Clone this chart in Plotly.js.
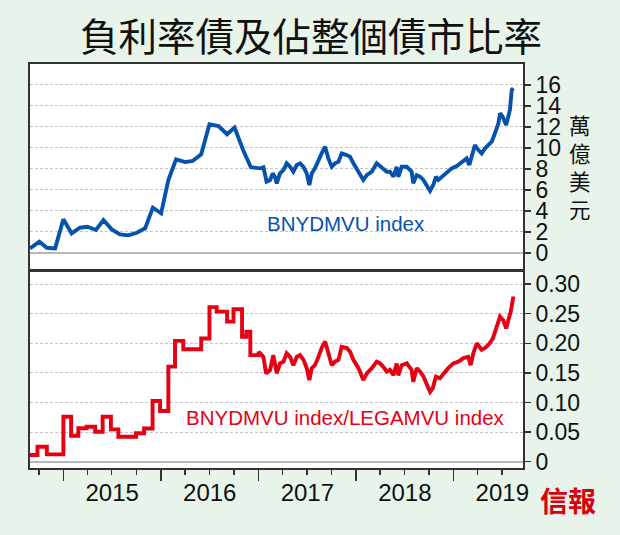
<!DOCTYPE html>
<html>
<head>
<meta charset="utf-8">
<script src="https://cdn.plot.ly/plotly-3.0.1.min.js"></script>
<style>html,body{margin:0;padding:0;background:#e8f4e9;}#chart{width:620px;height:535px;}</style>
</head>
<body>
<div id="chart"></div>
<script>
// ---- Data ----
const blueDates = [
  '2014-08-29','2014-10-03','2014-10-31','2014-12-01','2015-01-01','2015-02-01','2015-03-04','2015-04-01',
  '2015-05-03','2015-05-31','2015-07-01','2015-08-01','2015-09-01','2015-10-03','2015-11-03','2015-12-02',
  '2016-01-02','2016-01-29','2016-02-27','2016-04-01','2016-04-29','2016-05-31','2016-07-01','2016-08-04',
  '2016-09-05','2016-10-03','2016-11-04','2016-12-03','2017-01-07','2017-01-19','2017-01-31','2017-02-13',
  '2017-02-23','2017-03-03','2017-03-10','2017-03-22','2017-04-04','2017-04-16','2017-04-29','2017-05-11',
  '2017-05-24','2017-06-05','2017-06-18','2017-06-30','2017-07-10','2017-07-19','2017-07-31','2017-08-13',
  '2017-08-25','2017-09-07','2017-09-19','2017-10-02','2017-10-14','2017-10-27','2017-11-08','2017-11-27',
  '2017-12-09','2017-12-22','2018-01-10','2018-01-28','2018-02-10','2018-03-01','2018-03-19','2018-04-01',
  '2018-04-13','2018-04-26','2018-05-08','2018-05-21','2018-06-02','2018-06-08','2018-06-21','2018-07-10',
  '2018-07-28','2018-08-03','2018-08-16','2018-08-29','2018-09-10','2018-09-23','2018-10-05','2018-10-17',
  '2018-10-27','2018-11-05','2018-11-18','2018-12-06','2018-12-25','2019-01-13','2019-02-01','2019-02-19',
  '2019-03-01','2019-03-10','2019-03-22','2019-04-04','2019-04-16','2019-04-29','2019-05-11','2019-05-24',
  '2019-06-05','2019-06-18','2019-06-24','2019-07-04','2019-07-17','2019-07-25','2019-07-31','2019-08-07',
  '2019-08-13'
];
const blueValues = [
  0.42,1.05,0.48,0.42,3.19,1.85,2.39,2.48,
  2.17,3.12,2.23,1.75,1.66,1.91,2.33,4.30,
  3.76,6.94,8.91,8.65,8.75,9.39,12.25,12.09,
  11.30,11.93,9.80,8.15,8.05,8.15,6.78,6.94,
  7.57,7.25,6.62,7.57,7.89,8.53,8.20,7.73,
  8.37,8.53,8.20,7.57,6.46,7.57,8.05,8.85,
  9.48,10.11,9.00,8.20,8.53,8.68,9.48,9.32,
  9.16,8.53,7.73,6.94,7.41,7.73,8.53,8.27,
  8.05,7.73,7.73,7.25,8.20,7.25,8.20,8.20,
  7.73,6.62,7.41,7.25,6.94,6.46,5.90,6.46,
  7.25,6.94,7.25,7.57,8.05,8.27,8.68,9.00,
  8.37,9.22,10.27,9.80,9.48,9.96,10.28,10.59,
  11.39,12.35,13.30,12.98,12.19,13.30,13.62,15.53,
  15.69
];

// ratio, monthly steps (2014-08 .. 2016-12)
const redStepDates = [
  '2014-08-29','2014-09-26','2014-10-31','2015-01-01','2015-01-30','2015-02-26','2015-03-29','2015-04-30',
  '2015-05-28','2015-06-28','2015-07-26','2015-09-30','2015-10-30','2015-12-01','2015-12-29','2016-01-29',
  '2016-02-23','2016-03-25','2016-05-31','2016-07-01','2016-07-28','2016-09-05','2016-09-29','2016-10-31',
  '2016-11-16','2016-12-01','2017-01-01'
];
const redStepValues = [
  0.0113,0.0253,0.0124,0.076,0.0439,0.0564,0.059,0.0507,
  0.076,0.0547,0.0422,0.048,0.056,0.1025,0.0856,0.1605,
  0.204,0.190,0.208,0.261,0.2534,0.2365,0.2574,0.211,
  0.2196,0.180,0.186
];
// ratio, continuous (2017 .. 2019-08)
const redLineDates = [
  '2017-01-01','2017-01-19','2017-01-29','2017-02-13','2017-02-25','2017-03-10',
  '2017-03-22','2017-04-04','2017-04-16','2017-04-29','2017-05-11','2017-05-24','2017-06-05','2017-06-18',
  '2017-06-30','2017-07-10','2017-07-19','2017-07-31','2017-08-13','2017-08-25','2017-09-07','2017-09-19',
  '2017-10-02','2017-10-14','2017-10-27','2017-11-08','2017-11-27','2017-12-09','2017-12-22','2018-01-10',
  '2018-01-28','2018-02-10','2018-03-01','2018-03-19','2018-04-01','2018-04-13','2018-04-26','2018-05-08',
  '2018-05-21','2018-06-02','2018-06-08','2018-06-21','2018-07-10','2018-07-28','2018-08-03','2018-08-16',
  '2018-08-29','2018-09-10','2018-09-23','2018-10-05','2018-10-15','2018-10-27','2018-11-11','2018-11-24',
  '2018-12-12','2018-12-31','2019-01-19','2019-02-07','2019-02-25','2019-03-06','2019-03-16','2019-03-29',
  '2019-04-16','2019-04-29','2019-05-11','2019-05-28','2019-06-12','2019-06-24','2019-07-06','2019-07-17',
  '2019-07-25','2019-08-03','2019-08-13'
];
const redLineValues = [
  0.186,0.177,0.149,0.155,0.180,0.149,
  0.166,0.169,0.183,0.177,0.163,0.177,0.180,0.172,
  0.158,0.138,0.158,0.163,0.177,0.192,0.203,0.183,
  0.163,0.169,0.172,0.194,0.192,0.186,0.172,0.158,
  0.138,0.149,0.158,0.169,0.166,0.160,0.152,0.155,
  0.146,0.166,0.146,0.163,0.166,0.155,0.135,0.158,
  0.152,0.144,0.132,0.118,0.124,0.1436,0.141,0.149,
  0.158,0.166,0.169,0.175,0.177,0.163,0.183,0.200,
  0.189,0.192,0.197,0.208,0.228,0.245,0.239,0.225,
  0.239,0.253,0.279
];

const topTickVals = [0,2,4,6,8,10,12,14,16];
const topTickText = ['0','2','4','6','8','10','12','14','16'];
const botTickVals = [0,0.05,0.10,0.15,0.20,0.25,0.30];
const botTickText = ['0','0.05','0.10','0.15','0.20','0.25','0.30'];
const unitChars = ['萬','億','美','元'];

const titleText = '負利率債及佔整個債市比率';
const blueLabel = 'BNYDMVU index';
const redLabel = 'BNYDMVU index/LEGAMVU index';
const logoText = '信報';

// ---- Styles ----
const LATIN = 'Liberation Sans, Arial, sans-serif';
const CJK = 'Noto Sans CJK TC, Noto Sans CJK SC, sans-serif';
const BLUE = '#0652ad';
const RED = '#e60012';
const AXC = '#333333';

const traces = [
  {x: blueDates, y: blueValues, xaxis: 'x2', yaxis: 'y', type: 'scatter', mode: 'lines',
   line: {color: BLUE, width: 3.9, shape: 'linear'}, hoverinfo: 'skip'},
  {x: redStepDates, y: redStepValues, xaxis: 'x', yaxis: 'y2', type: 'scatter', mode: 'lines',
   line: {color: RED, width: 3.9, shape: 'hv'}, hoverinfo: 'skip'},
  {x: redLineDates, y: redLineValues, xaxis: 'x', yaxis: 'y2', type: 'scatter', mode: 'lines',
   line: {color: RED, width: 3.9, shape: 'linear'}, hoverinfo: 'skip'},
  // empty trace so the year-label axis (x3) gets a subplot
  {x: [], y: [], xaxis: 'x3', yaxis: 'y2', type: 'scatter', mode: 'lines', hoverinfo: 'skip', showlegend: false}
];

const xRange = ['2014-08-29', '2019-09-18'];
const gridCommon = {showgrid: true, gridcolor: '#c4c4c4', gridwidth: 1, griddash: '3px,2px',
  zeroline: true, zerolinecolor: '#b8b8b8', zerolinewidth: 2};

const layout = {
  width: 620, height: 535,
  margin: {l: 30, r: 97, t: 64, b: 67},
  paper_bgcolor: '#e8f4e9',
  plot_bgcolor: '#ffffff',
  showlegend: false,
  title: {text: titleText, font: {family: CJK, size: 38.5, color: '#111111'},
          x: 0.5016, xanchor: 'center', xref: 'container', y: 0.929, yanchor: 'middle', yref: 'container'},
  xaxis: {
    type: 'date', range: xRange, anchor: 'y2', domain: [0, 1],
    showline: true, mirror: true, linecolor: AXC, linewidth: 1.8,
    showgrid: false, zeroline: false, showticklabels: false,
    tick0: '2015-01-01', dtick: 'M12',
    ticks: 'outside', ticklen: 11, tickwidth: 1.5, tickcolor: AXC,
    minor: {tick0: '2015-01-01', dtick: 'M3', ticks: 'outside', ticklen: 5, tickwidth: 1.5, tickcolor: AXC, showgrid: false}
  },
  xaxis3: {
    type: 'date', range: xRange, anchor: 'y2', overlaying: 'x', domain: [0, 1],
    showline: false, showgrid: false, zeroline: false,
    tick0: '2015-01-01', dtick: 'M12', ticklabelmode: 'period', tickformat: '%Y',
    ticks: 'outside', ticklen: 3, tickcolor: 'rgba(0,0,0,0)',
    tickfont: {family: LATIN, size: 24, color: '#111'}
  },
  xaxis2: {
    type: 'date', range: xRange, anchor: 'y', matches: 'x', domain: [0, 1],
    showline: true, mirror: true, linecolor: AXC, linewidth: 1.8,
    showgrid: false, zeroline: false, showticklabels: false, ticks: ''
  },
  yaxis: Object.assign({
    domain: [0.4938, 1], anchor: 'x2', side: 'right', range: [-1.5, 18],
    tickvals: topTickVals, ticktext: topTickText,
    showline: true, mirror: true, linecolor: AXC, linewidth: 1.8,
    ticks: 'outside', ticklen: 6, tickwidth: 1.5, tickcolor: AXC,
    tickfont: {family: LATIN, size: 23, color: '#111'}
  }, gridCommon),
  yaxis2: Object.assign({
    domain: [0, 0.4851], anchor: 'x', side: 'right', range: [-0.0106, 0.3203],
    tickvals: botTickVals, ticktext: botTickText,
    showline: true, mirror: true, linecolor: AXC, linewidth: 1.8,
    ticks: 'outside', ticklen: 6, tickwidth: 1.5, tickcolor: AXC,
    tickfont: {family: LATIN, size: 23, color: '#111'}
  }, gridCommon),
  annotations: [
    {text: blueLabel, xref: 'paper', yref: 'paper', x: 0.641, y: 0.606, showarrow: false,
     xanchor: 'center', yanchor: 'middle', font: {family: LATIN, size: 20.5, color: BLUE}},
    {text: redLabel, xref: 'paper', yref: 'paper', x: 0.640, y: 0.126, showarrow: false,
     xanchor: 'center', yanchor: 'middle', font: {family: LATIN, size: 20.5, color: RED}},
    {text: logoText, xref: 'paper', yref: 'paper', x: 1.091, y: -0.079, showarrow: false,
     xanchor: 'center', yanchor: 'middle', font: {family: CJK, size: 28, color: '#d8000f', weight: 'bold'}},
    {text: unitChars.join('<br>'), xref: 'paper', yref: 'paper', x: 1.1156, y: 0.746, showarrow: false,
     xanchor: 'center', yanchor: 'middle', align: 'center', font: {family: CJK, size: 21.5, color: '#111'}}
  ]
};

Plotly.newPlot('chart', traces, layout, {staticPlot: true, displayModeBar: false});
</script>
</body>
</html>
